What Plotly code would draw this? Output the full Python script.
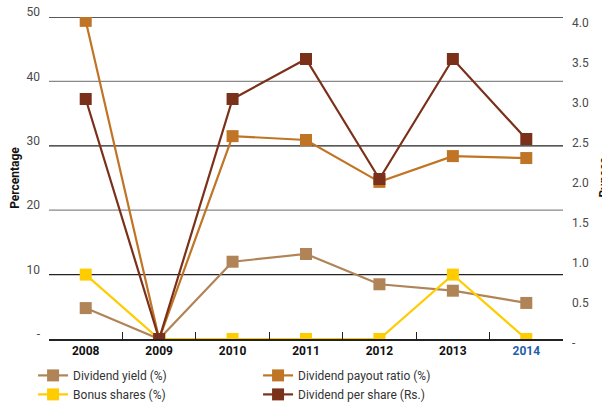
import plotly.graph_objects as go

# Financial years on the category axis
years = ["2008", "2009", "2010", "2011", "2012", "2013", "2014"]

# Percentage series (left axis)
dividend_yield = [4.8, 0.0, 12.0, 13.2, 8.5, 7.5, 5.6]
payout_ratio = [49.4, 0.0, 31.5, 30.9, 24.4, 28.4, 28.1]
bonus_shares = [10.0, 0.0, 0.0, 0.0, 0.0, 10.0, 0.0]

# Rupee series (right axis)
dividend_per_share = [3.0, 0.0, 3.0, 3.5, 2.0, 3.5, 2.5]

# Axis ticks
pct_ticks = [0, 10, 20, 30, 40, 50]
pct_labels = ["-", "10", "20", "30", "40", "50"]
rs_ticks = [0, 0.5, 1.0, 1.5, 2.0, 2.5, 3.0, 3.5, 4.0]
rs_labels = ["-", "0.5", "1.0", "1.5", "2.0", "2.5", "3.0", "3.5", "4.0"]
year_labels = ["2008", "2009", "2010", "2011", "2012", "2013",
               '<span style="color:#1F5FA8">2014</span>']

FONT = "Roboto"
C_YIELD = "#B08456"
C_PAYOUT = "#C07425"
C_BONUS = "#FFCC00"
C_DPS = "#7A3019"

fig = go.Figure()

def add_series(name, values, color, axis="y"):
    fig.add_trace(go.Scatter(
        x=years, y=values, name=name, yaxis=axis,
        mode="lines+markers",
        line=dict(color=color, width=2.2),
        marker=dict(symbol="square", size=12, color=color),
    ))

add_series("Dividend yield (%)", dividend_yield, C_YIELD)
add_series("Dividend payout ratio (%)", payout_ratio, C_PAYOUT)
add_series("Bonus shares (%)", bonus_shares, C_BONUS)
add_series("Dividend per share (Rs.)", dividend_per_share, C_DPS, "y2")

# Alternating dark / grey horizontal rules
for i, v in enumerate(pct_ticks[1:]):
    fig.add_hline(y=v, line=dict(color="#222222" if i % 2 == 0 else "#888888",
                                 width=1.3), layer="below")

# Right-hand axis caption, running past the page edge
fig.add_annotation(
    text="<b>Rupees</b>", textangle=-90, showarrow=False,
    xref="paper", yref="paper", x=1.079, y=0.5, xanchor="center", yanchor="middle",
    font=dict(family=FONT, size=12, color="#111111"),
)

fig.update_layout(
    width=602, height=403,
    margin=dict(l=49, r=39, t=17, b=64, autoexpand=False),
    plot_bgcolor="white", paper_bgcolor="white",
    font=dict(family=FONT, size=12, color="#444444"),
    showlegend=True,
    legend=dict(
        orientation="h", x=-0.031, xanchor="left", y=-0.068, yanchor="top",
        entrywidth=180, entrywidthmode="pixels",
        font=dict(family=FONT, size=12, color="#333333"),
        tracegroupgap=0, itemwidth=30,
        bgcolor="rgba(0,0,0,0)",
    ),
    xaxis=dict(
        type="category", tickmode="array", tickvals=years, ticktext=year_labels,
        tickson="boundaries", ticks="inside", ticklen=7, tickcolor="#222222",
        tickwidth=1.2, automargin=False,
        showline=True, linecolor="#222222", linewidth=1.5,
        showgrid=False, zeroline=False,
        tickfont=dict(family=FONT, size=12, color="#111111", weight="bold"),
        range=[-0.5, 6.5],
    ),
    yaxis=dict(
        range=[0, 50], tickmode="array", tickvals=pct_ticks, ticktext=pct_labels,
        showgrid=False, zeroline=False, showline=False, ticks="",
        ticklabelstandoff=8, ticklabelshift=-5, automargin=False,
        tickfont=dict(family=FONT, size=12, color="#4a4a4a"),
        title=dict(text="Percentage", standoff=4,
                   font=dict(family=FONT, size=12, color="#111111", weight="bold")),
    ),
    yaxis2=dict(
        overlaying="y", side="right",
        range=[0, 4.025], tickmode="array", tickvals=rs_ticks, ticktext=rs_labels,
        showgrid=False, zeroline=False, showline=False, ticks="",
        ticklabelstandoff=8, ticklabelshift=4, automargin=False,
        tickfont=dict(family=FONT, size=12, color="#4a4a4a"),
    ),
)

fig.write_html("out.html")
